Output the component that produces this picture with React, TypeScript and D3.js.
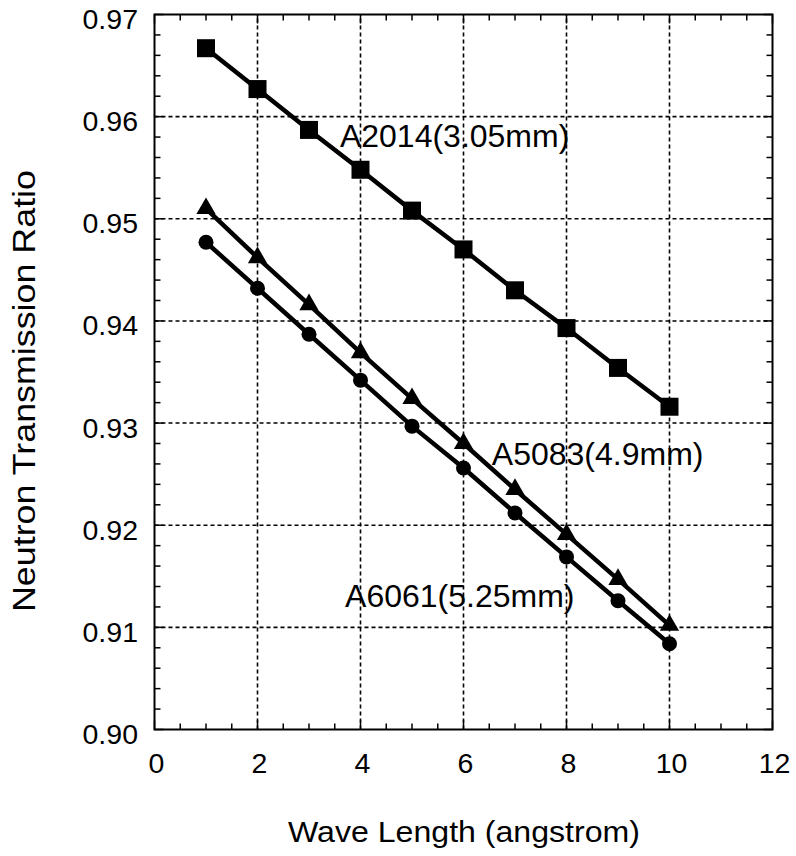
import React from 'react';
import * as d3 from 'd3';

const waveLengths = [1, 2, 3, 4, 5, 6, 7, 8, 9, 10];
const a2014 = [0.9667, 0.9627, 0.9587, 0.9548, 0.9508, 0.947, 0.943, 0.9393, 0.9354, 0.9316];
const a5083 = [0.951, 0.9462, 0.9416, 0.9369, 0.9324, 0.928, 0.9235, 0.9191, 0.9147, 0.9102];
const a6061 = [0.9477, 0.9432, 0.9387, 0.9342, 0.9297, 0.9256, 0.9212, 0.9169, 0.9126, 0.9084];

const xTicks = [0, 2, 4, 6, 8, 10, 12];
const yTicks = [0.9, 0.91, 0.92, 0.93, 0.94, 0.95, 0.96, 0.97];

const seriesNames = ['A2014(3.05mm)', 'A5083(4.9mm)', 'A6061(5.25mm)'];
const seriesMarkers = ['square', 'triangle', 'circle'];
// label anchor (left, baseline) in data units
const labelX = [3.6, 6.55, 3.7];
const labelY = [0.957, 0.9259, 0.912];

const W = 796;
const H = 856;
const font = '"Liberation Sans", Arial, Helvetica, sans-serif';

export default function App() {
  const x = d3.scaleLinear().domain([0, 12]).range([154.5, 772.5]);
  const y = d3.scaleLinear().domain([0.9, 0.97]).range([729.5, 14.5]);
  const [x0, x1] = x.range();
  const [y0, y1] = y.range();

  const line = d3
    .line<number>()
    .x((_, i) => x(waveLengths[i]))
    .y((d) => y(d));

  const allSeries = [a2014, a5083, a6061];

  const xMinor = d3.range(0, 12.01, 0.5);
  const yMinor = d3.range(0.9, 0.9701, 0.002);

  const marker = (kind: string, cx: number, cy: number, key: string) => {
    if (kind === 'square') {
      return <rect key={key} x={cx - 9} y={cy - 9} width={18} height={18} fill="#000" />;
    }
    if (kind === 'circle') {
      return <circle key={key} cx={cx} cy={cy} r={7.5} fill="#000" />;
    }
    const s = d3.symbol().type(d3.symbolTriangle).size(160)();
    return <path key={key} d={s || ''} transform={`translate(${cx},${cy})`} fill="#000" />;
  };

  return (
    <div style={{ position: 'absolute', left: 0, top: 0 }}>
      <svg width={W} height={H} style={{ display: 'block', background: '#fff' }}>
        {/* grid */}
        <g stroke="#000" strokeWidth={1.6} strokeDasharray="4,3">
          {xTicks.slice(1, -1).map((t) => (
            <line key={'gx' + t} x1={x(t)} x2={x(t)} y1={y0} y2={y1} />
          ))}
          {yTicks.slice(1, -1).map((t) => (
            <line key={'gy' + t} x1={x0} x2={x1} y1={y(t)} y2={y(t)} />
          ))}
        </g>

        {/* ticks on all four sides, pointing in */}
        <g stroke="#000" strokeWidth={1.5}>
          {xMinor.map((t, i) => {
            const len = i % 4 === 0 ? 9 : 6;
            return (
              <g key={'xt' + i}>
                <line x1={x(t)} x2={x(t)} y1={y0} y2={y0 - len} />
                <line x1={x(t)} x2={x(t)} y1={y1} y2={y1 + len} />
              </g>
            );
          })}
          {yMinor.map((t, i) => {
            const len = i % 5 === 0 ? 9 : 6;
            return (
              <g key={'yt' + i}>
                <line x1={x0} x2={x0 + len} y1={y(t)} y2={y(t)} />
                <line x1={x1} x2={x1 - len} y1={y(t)} y2={y(t)} />
              </g>
            );
          })}
        </g>

        <rect x={x0} y={y1} width={x1 - x0} height={y0 - y1} fill="none" stroke="#000" strokeWidth={2} />

        {/* series */}
        {allSeries.map((vals, si) => (
          <g key={'s' + si}>
            <path d={line(vals) || ''} fill="none" stroke="#000" strokeWidth={4.5} />
            {vals.map((v, i) => marker(seriesMarkers[si], x(waveLengths[i]), y(v), 'm' + si + '-' + i))}
          </g>
        ))}

        {/* series labels */}
        <g fontFamily={font} fontSize={32} fill="#000">
          {seriesNames.map((n, i) => (
            <text key={n} x={x(labelX[i])} y={y(labelY[i])}>
              {n}
            </text>
          ))}
        </g>

        {/* tick labels */}
        <g fontFamily={font} fontSize={28.5} fill="#000">
          {xTicks.map((t) => (
            <text key={'xl' + t} x={x(t) + 2} y={773} textAnchor="middle">
              {t}
            </text>
          ))}
          {yTicks.map((t) => (
            <text key={'yl' + t} x={138} y={y(t) + 14.5} textAnchor="end">
              {t.toFixed(2)}
            </text>
          ))}
        </g>

        <text
          x={288}
          y={842}
          fontFamily={font}
          fontSize={30}
          textLength={352}
          lengthAdjust="spacingAndGlyphs"
        >
          Wave Length (angstrom)
        </text>
        <text
          transform={`translate(35,391) rotate(-90)`}
          textAnchor="middle"
          fontFamily={font}
          fontSize={31}
          textLength={442}
          lengthAdjust="spacingAndGlyphs"
        >
          Neutron Transmission Ratio
        </text>
      </svg>
    </div>
  );
}
